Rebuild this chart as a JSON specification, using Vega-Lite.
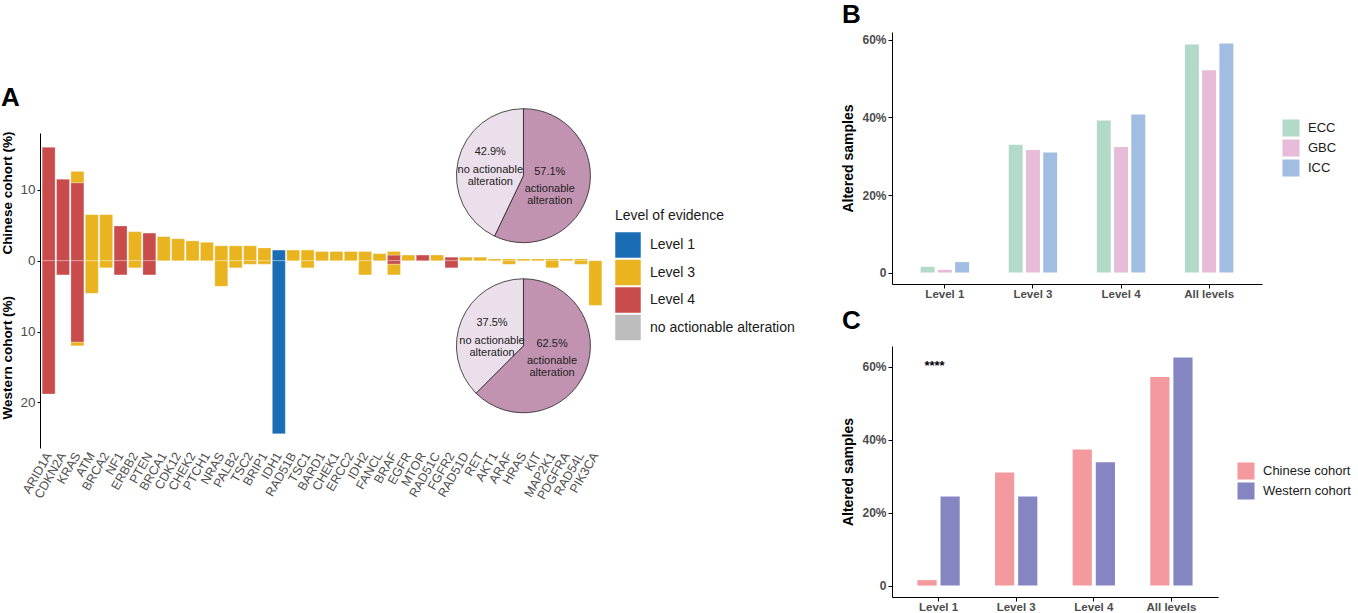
{
  "$schema": "https://vega.github.io/schema/vega-lite/v6.json",
  "padding": {"left": 0, "top": 2, "right": 0, "bottom": 0},
  "background": "white",
  "config": {
    "font": "Liberation Sans",
    "view": {"stroke": null},
    "axis": {"domainColor": "#000000", "tickColor": "#000000", "labelColor": "#4d4d4d", "titleColor": "#000000", "grid": false},
    "legend": {"labelColor": "#1a1a1a", "titleColor": "#1a1a1a"},
    "title": {"fontSize": 26, "fontWeight": "bold", "anchor": "start", "frame": "bounds", "color": "#000000"}
  },
  "spacing": 46,
  "resolve": {"scale": {"color": "independent", "x": "independent", "y": "independent", "xOffset": "independent", "theta": "independent"}, "legend": {"color": "independent"}},
  "hconcat": [
    {
      "spacing": 52,
      "vconcat": [
        {
          "width": 1,
          "height": 1,
          "data": {"values": []},
          "mark": {"type": "point"}
        },
        {
          "width": 564,
          "height": 315,
          "title": {"text": "A", "offset": -4},
          "resolve": {"scale": {"color": "independent"}},
          "layer": [
            {
              "data": {"values": [
                {"gene": "ARID1A", "cohort": "Chinese", "level": "Level 4", "value": 16.0},
                {"gene": "ARID1A", "cohort": "Western", "level": "Level 4", "value": -18.8},
                {"gene": "CDKN2A", "cohort": "Chinese", "level": "Level 4", "value": 11.5},
                {"gene": "CDKN2A", "cohort": "Western", "level": "Level 4", "value": -2.0},
                {"gene": "KRAS", "cohort": "Chinese", "level": "Level 4", "value": 11.0},
                {"gene": "KRAS", "cohort": "Chinese", "level": "Level 3", "value": 1.6},
                {"gene": "KRAS", "cohort": "Western", "level": "Level 4", "value": -11.5},
                {"gene": "KRAS", "cohort": "Western", "level": "Level 3", "value": -0.5},
                {"gene": "ATM", "cohort": "Chinese", "level": "Level 3", "value": 6.5},
                {"gene": "ATM", "cohort": "Western", "level": "Level 3", "value": -4.6},
                {"gene": "BRCA2", "cohort": "Chinese", "level": "Level 3", "value": 6.5},
                {"gene": "BRCA2", "cohort": "Western", "level": "Level 3", "value": -1.0},
                {"gene": "NF1", "cohort": "Chinese", "level": "Level 4", "value": 4.9},
                {"gene": "NF1", "cohort": "Western", "level": "Level 4", "value": -2.0},
                {"gene": "ERBB2", "cohort": "Chinese", "level": "Level 3", "value": 4.1},
                {"gene": "ERBB2", "cohort": "Western", "level": "Level 3", "value": -1.0},
                {"gene": "PTEN", "cohort": "Chinese", "level": "Level 4", "value": 3.9},
                {"gene": "PTEN", "cohort": "Western", "level": "Level 4", "value": -2.0},
                {"gene": "BRCA1", "cohort": "Chinese", "level": "Level 3", "value": 3.4},
                {"gene": "CDK12", "cohort": "Chinese", "level": "Level 3", "value": 3.1},
                {"gene": "CHEK2", "cohort": "Chinese", "level": "Level 3", "value": 2.8},
                {"gene": "PTCH1", "cohort": "Chinese", "level": "Level 3", "value": 2.6},
                {"gene": "NRAS", "cohort": "Chinese", "level": "Level 3", "value": 2.1},
                {"gene": "NRAS", "cohort": "Western", "level": "Level 3", "value": -3.6},
                {"gene": "PALB2", "cohort": "Chinese", "level": "Level 3", "value": 2.1},
                {"gene": "PALB2", "cohort": "Western", "level": "Level 3", "value": -1.0},
                {"gene": "TSC2", "cohort": "Chinese", "level": "Level 3", "value": 2.1},
                {"gene": "TSC2", "cohort": "Western", "level": "Level 3", "value": -0.5},
                {"gene": "BRIP1", "cohort": "Chinese", "level": "Level 3", "value": 1.8},
                {"gene": "BRIP1", "cohort": "Western", "level": "Level 3", "value": -0.5},
                {"gene": "IDH1", "cohort": "Chinese", "level": "Level 1", "value": 1.5},
                {"gene": "IDH1", "cohort": "Western", "level": "Level 1", "value": -24.4},
                {"gene": "RAD51B", "cohort": "Chinese", "level": "Level 3", "value": 1.5},
                {"gene": "TSC1", "cohort": "Chinese", "level": "Level 3", "value": 1.5},
                {"gene": "TSC1", "cohort": "Western", "level": "Level 3", "value": -1.0},
                {"gene": "BARD1", "cohort": "Chinese", "level": "Level 3", "value": 1.3},
                {"gene": "CHEK1", "cohort": "Chinese", "level": "Level 3", "value": 1.3},
                {"gene": "ERCC2", "cohort": "Chinese", "level": "Level 3", "value": 1.3},
                {"gene": "IDH2", "cohort": "Chinese", "level": "Level 3", "value": 1.3},
                {"gene": "IDH2", "cohort": "Western", "level": "Level 3", "value": -2.0},
                {"gene": "FANCL", "cohort": "Chinese", "level": "Level 3", "value": 1.0},
                {"gene": "BRAF", "cohort": "Chinese", "level": "Level 4", "value": 0.8},
                {"gene": "BRAF", "cohort": "Chinese", "level": "Level 3", "value": 0.5},
                {"gene": "BRAF", "cohort": "Western", "level": "Level 4", "value": -0.5},
                {"gene": "BRAF", "cohort": "Western", "level": "Level 3", "value": -1.5},
                {"gene": "EGFR", "cohort": "Chinese", "level": "Level 3", "value": 0.8},
                {"gene": "MTOR", "cohort": "Chinese", "level": "Level 4", "value": 0.8},
                {"gene": "RAD51C", "cohort": "Chinese", "level": "Level 3", "value": 0.8},
                {"gene": "FGFR2", "cohort": "Chinese", "level": "Level 4", "value": 0.5},
                {"gene": "FGFR2", "cohort": "Western", "level": "Level 4", "value": -1.0},
                {"gene": "RAD51D", "cohort": "Chinese", "level": "Level 3", "value": 0.5},
                {"gene": "RET", "cohort": "Chinese", "level": "Level 3", "value": 0.5},
                {"gene": "AKT1", "cohort": "Chinese", "level": "Level 3", "value": 0.25},
                {"gene": "ARAF", "cohort": "Chinese", "level": "Level 3", "value": 0.25},
                {"gene": "ARAF", "cohort": "Western", "level": "Level 3", "value": -0.5},
                {"gene": "HRAS", "cohort": "Chinese", "level": "Level 3", "value": 0.25},
                {"gene": "KIT", "cohort": "Chinese", "level": "Level 3", "value": 0.25},
                {"gene": "MAP2K1", "cohort": "Chinese", "level": "Level 3", "value": 0.25},
                {"gene": "MAP2K1", "cohort": "Western", "level": "Level 3", "value": -1.0},
                {"gene": "PDGFRA", "cohort": "Chinese", "level": "Level 3", "value": 0.25},
                {"gene": "RAD54L", "cohort": "Chinese", "level": "Level 3", "value": 0.25},
                {"gene": "RAD54L", "cohort": "Western", "level": "Level 3", "value": -0.5},
                {"gene": "PIK3CA", "cohort": "Western", "level": "Level 3", "value": -6.3}
              ]},
              "mark": {"type": "bar", "stroke": "#ffffff", "strokeWidth": 0.5, "strokeOpacity": 0.5},
              "encoding": {
                "x": {
                  "field": "gene", "type": "nominal",
                  "scale": {"domain": ["ARID1A","CDKN2A","KRAS","ATM","BRCA2","NF1","ERBB2","PTEN","BRCA1","CDK12","CHEK2","PTCH1","NRAS","PALB2","TSC2","BRIP1","IDH1","RAD51B","TSC1","BARD1","CHEK1","ERCC2","IDH2","FANCL","BRAF","EGFR","MTOR","RAD51C","FGFR2","RAD51D","RET","AKT1","ARAF","HRAS","KIT","MAP2K1","PDGFRA","RAD54L","PIK3CA"], "paddingInner": 0.1, "paddingOuter": 0.15},
                  "axis": {"title": null, "labelAngle": -60, "labelAlign": "right", "labelBaseline": "middle", "labelFontSize": 12.5, "domain": false, "ticks": false, "labelPadding": 5}
                },
                "y": {
                  "field": "value", "type": "quantitative", "stack": "zero",
                  "scale": {"domain": [-26.42, 18.02], "nice": false, "zero": false},
                  "axis": {
                    "values": [10, 0, -10, -20],
                    "labelExpr": "'' + abs(datum.value)",
                    "title": "Western cohort (%)\u00a0\u00a0\u00a0\u00a0\u00a0\u00a0\u00a0\u00a0\u00a0\u00a0\u00a0Chinese cohort (%)",
                    "titleY": 142,
                    "titleFontSize": 13.5, "titleFontWeight": "bold", "labelFontSize": 13.5, "tickSize": 3, "labelPadding": 2, "titlePadding": 5
                  }
                },
                "color": {
                  "field": "level", "type": "nominal",
                  "scale": {"domain": ["Level 1", "Level 3", "Level 4", "no actionable alteration"], "range": ["#1a6db5", "#e9b41f", "#c84c4b", "#bdbdbd"]},
                  "legend": {"orient": "none", "legendX": 575, "legendY": 76, "title": "Level of evidence", "titleFontSize": 14, "titleFontWeight": "normal", "labelFontSize": 14, "symbolType": "square", "symbolSize": 650, "symbolStrokeWidth": 0, "rowPadding": 1.5, "labelOffset": 9, "titlePadding": 9}
                },
                "order": {"field": "level", "sort": "descending"}
              }
            },
            {
              "mark": {"type": "rule", "color": "#000000", "strokeWidth": 1},
              "encoding": {"y": {"datum": 0, "type": "quantitative"}}
            },
            {
              "data": {"values": [
                {"status": "actionable alteration", "pct": 57.1, "pctLabel": "57.1%", "desc": "actionable\nalteration"},
                {"status": "no actionable alteration", "pct": 42.9, "pctLabel": "42.9%", "desc": "no actionable\nalteration"}
              ]},
              "layer": [
                {
                  "mark": {"type": "arc", "radius": 67, "stroke": "#222222", "strokeWidth": 0.8},
                  "encoding": {
                    "x": {"datum": "HRAS", "type": "nominal"}, "y": {"datum": 12, "type": "quantitative"},
                    "theta": {"field": "pct", "type": "quantitative", "stack": true},
                    "order": {"field": "status", "type": "ordinal"},
                    "color": {"field": "status", "type": "nominal", "scale": {"domain": ["actionable alteration", "no actionable alteration"], "range": ["#c293b1", "#ebdfeb"]}, "legend": null}
                  }
                },
                {
                  "mark": {"type": "text", "radius": 34, "dy": -16, "fontSize": 11, "color": "#222222"},
                  "encoding": {
                    "x": {"datum": "HRAS", "type": "nominal"}, "y": {"datum": 12, "type": "quantitative"},
                    "theta": {"field": "pct", "type": "quantitative", "stack": true},
                    "order": {"field": "status", "type": "ordinal"},
                    "text": {"condition": {"test": "datum.status == 'no actionable alteration'", "field": "pctLabel", "type": "nominal"}, "value": ""}
                  }
                },
                {
                  "mark": {"type": "text", "radius": 34, "dy": 2, "fontSize": 11, "color": "#222222", "lineBreak": "\n", "lineHeight": 12},
                  "encoding": {
                    "x": {"datum": "HRAS", "type": "nominal"}, "y": {"datum": 12, "type": "quantitative"},
                    "theta": {"field": "pct", "type": "quantitative", "stack": true},
                    "order": {"field": "status", "type": "ordinal"},
                    "text": {"condition": {"test": "datum.status == 'no actionable alteration'", "field": "desc", "type": "nominal"}, "value": ""}
                  }
                },
                {
                  "mark": {"type": "text", "radius": 27, "dy": -10, "fontSize": 11, "color": "#222222"},
                  "encoding": {
                    "x": {"datum": "HRAS", "type": "nominal"}, "y": {"datum": 12, "type": "quantitative"},
                    "theta": {"field": "pct", "type": "quantitative", "stack": true},
                    "order": {"field": "status", "type": "ordinal"},
                    "text": {"condition": {"test": "datum.status == 'actionable alteration'", "field": "pctLabel", "type": "nominal"}, "value": ""}
                  }
                },
                {
                  "mark": {"type": "text", "radius": 27, "dy": 7, "fontSize": 11, "color": "#222222", "lineBreak": "\n", "lineHeight": 12},
                  "encoding": {
                    "x": {"datum": "HRAS", "type": "nominal"}, "y": {"datum": 12, "type": "quantitative"},
                    "theta": {"field": "pct", "type": "quantitative", "stack": true},
                    "order": {"field": "status", "type": "ordinal"},
                    "text": {"condition": {"test": "datum.status == 'actionable alteration'", "field": "desc", "type": "nominal"}, "value": ""}
                  }
                }
              ]
            },
            {
              "data": {"values": [
                {"status": "actionable alteration", "pct": 62.5, "pctLabel": "62.5%", "desc": "actionable\nalteration"},
                {"status": "no actionable alteration", "pct": 37.5, "pctLabel": "37.5%", "desc": "no actionable\nalteration"}
              ]},
              "layer": [
                {
                  "mark": {"type": "arc", "radius": 67, "stroke": "#222222", "strokeWidth": 0.8},
                  "encoding": {
                    "x": {"datum": "HRAS", "type": "nominal"}, "y": {"datum": -12, "type": "quantitative"},
                    "theta": {"field": "pct", "type": "quantitative", "stack": true},
                    "order": {"field": "status", "type": "ordinal"},
                    "color": {"field": "status", "type": "nominal", "scale": {"domain": ["actionable alteration", "no actionable alteration"], "range": ["#c293b1", "#ebdfeb"]}, "legend": null}
                  }
                },
                {
                  "mark": {"type": "text", "radius": 34, "dy": -10, "fontSize": 11, "color": "#222222"},
                  "encoding": {
                    "x": {"datum": "HRAS", "type": "nominal"}, "y": {"datum": -12, "type": "quantitative"},
                    "theta": {"field": "pct", "type": "quantitative", "stack": true},
                    "order": {"field": "status", "type": "ordinal"},
                    "text": {"condition": {"test": "datum.status == 'no actionable alteration'", "field": "pctLabel", "type": "nominal"}, "value": ""}
                  }
                },
                {
                  "mark": {"type": "text", "radius": 34, "dy": 8, "fontSize": 11, "color": "#222222", "lineBreak": "\n", "lineHeight": 12},
                  "encoding": {
                    "x": {"datum": "HRAS", "type": "nominal"}, "y": {"datum": -12, "type": "quantitative"},
                    "theta": {"field": "pct", "type": "quantitative", "stack": true},
                    "order": {"field": "status", "type": "ordinal"},
                    "text": {"condition": {"test": "datum.status == 'no actionable alteration'", "field": "desc", "type": "nominal"}, "value": ""}
                  }
                },
                {
                  "mark": {"type": "text", "radius": 31, "dy": -14, "fontSize": 11, "color": "#222222"},
                  "encoding": {
                    "x": {"datum": "HRAS", "type": "nominal"}, "y": {"datum": -12, "type": "quantitative"},
                    "theta": {"field": "pct", "type": "quantitative", "stack": true},
                    "order": {"field": "status", "type": "ordinal"},
                    "text": {"condition": {"test": "datum.status == 'actionable alteration'", "field": "pctLabel", "type": "nominal"}, "value": ""}
                  }
                },
                {
                  "mark": {"type": "text", "radius": 31, "dy": 3, "fontSize": 11, "color": "#222222", "lineBreak": "\n", "lineHeight": 12},
                  "encoding": {
                    "x": {"datum": "HRAS", "type": "nominal"}, "y": {"datum": -12, "type": "quantitative"},
                    "theta": {"field": "pct", "type": "quantitative", "stack": true},
                    "order": {"field": "status", "type": "ordinal"},
                    "text": {"condition": {"test": "datum.status == 'actionable alteration'", "field": "desc", "type": "nominal"}, "value": ""}
                  }
                }
              ]
            }
          ]
        }
      ]
    },
    {
      "spacing": 8,
      "resolve": {"scale": {"color": "independent", "x": "independent", "y": "independent", "xOffset": "independent"}, "legend": {"color": "independent"}},
      "vconcat": [
        {
          "width": 370,
          "height": 252,
          "title": {"text": "B", "offset": 4},
          "data": {"values": [
            {"level": "Level 1", "group": "ECC", "value": 1.5},
            {"level": "Level 1", "group": "GBC", "value": 0.7},
            {"level": "Level 1", "group": "ICC", "value": 2.7},
            {"level": "Level 3", "group": "ECC", "value": 33.0},
            {"level": "Level 3", "group": "GBC", "value": 31.6},
            {"level": "Level 3", "group": "ICC", "value": 31.0},
            {"level": "Level 4", "group": "ECC", "value": 39.2},
            {"level": "Level 4", "group": "GBC", "value": 32.4},
            {"level": "Level 4", "group": "ICC", "value": 40.8},
            {"level": "All levels", "group": "ECC", "value": 58.8},
            {"level": "All levels", "group": "GBC", "value": 52.2},
            {"level": "All levels", "group": "ICC", "value": 59.1}
          ]},
          "mark": {"type": "bar"},
          "encoding": {
            "x": {
              "field": "level", "type": "nominal", "sort": ["Level 1", "Level 3", "Level 4", "All levels"],
              "scale": {"paddingInner": 0.45, "paddingOuter": 0.325},
              "axis": {"title": null, "labelAngle": 0, "labelFontSize": 11.5, "labelFontWeight": "bold", "tickSize": 4, "labelPadding": 0}
            },
            "xOffset": {"field": "group", "type": "nominal", "scale": {"paddingInner": 0.19, "paddingOuter": 0}},
            "y": {
              "field": "value", "type": "quantitative", "stack": null,
              "scale": {"domain": [-2.955, 62.055], "nice": false, "zero": false},
              "axis": {"values": [0, 20, 40, 60], "labelExpr": "datum.value == 0 ? '0' : datum.value + '%'", "title": "Altered samples", "titleFontSize": 14, "titleFontWeight": "bold", "labelFontSize": 12, "labelFontWeight": "bold", "tickSize": 4, "labelPadding": 2, "titlePadding": 6}
            },
            "color": {
              "field": "group", "type": "nominal",
              "scale": {"domain": ["ECC", "GBC", "ICC"], "range": ["#b3d9c9", "#e6bcd8", "#a2bde2"]},
              "legend": {"orient": "none", "legendX": 390, "legendY": 87, "title": null, "labelFontSize": 13, "symbolType": "square", "symbolSize": 290, "symbolStrokeWidth": 0, "rowPadding": 2, "labelOffset": 8}
            }
          }
        },
        {
          "width": 326,
          "height": 251,
          "title": {"text": "C", "offset": 12},
          "layer": [
            {
              "data": {"values": [
                {"level": "Level 1", "cohort": "Chinese cohort", "value": 1.5},
                {"level": "Level 1", "cohort": "Western cohort", "value": 24.4},
                {"level": "Level 3", "cohort": "Chinese cohort", "value": 31.0},
                {"level": "Level 3", "cohort": "Western cohort", "value": 24.4},
                {"level": "Level 4", "cohort": "Chinese cohort", "value": 37.3},
                {"level": "Level 4", "cohort": "Western cohort", "value": 33.8},
                {"level": "All levels", "cohort": "Chinese cohort", "value": 57.1},
                {"level": "All levels", "cohort": "Western cohort", "value": 62.5}
              ]},
              "mark": {"type": "bar"},
              "encoding": {
                "x": {
                  "field": "level", "type": "nominal", "sort": ["Level 1", "Level 3", "Level 4", "All levels"],
                  "scale": {"paddingInner": 0.455, "paddingOuter": 0.3275},
                  "axis": {"title": null, "labelAngle": 0, "labelFontSize": 11.5, "labelFontWeight": "bold", "tickSize": 4, "labelPadding": 0}
                },
                "xOffset": {"field": "cohort", "type": "nominal", "scale": {"paddingInner": 0.17, "paddingOuter": 0}},
                "y": {
                  "field": "value", "type": "quantitative", "stack": null,
                  "scale": {"domain": [-3.125, 65.625], "nice": false, "zero": false},
                  "axis": {"values": [0, 20, 40, 60], "labelExpr": "datum.value == 0 ? '0' : datum.value + '%'", "title": "Altered samples", "titleFontSize": 14, "titleFontWeight": "bold", "labelFontSize": 12, "labelFontWeight": "bold", "tickSize": 4, "labelPadding": 2, "titlePadding": 6}
                },
                "color": {
                  "field": "cohort", "type": "nominal",
                  "scale": {"domain": ["Chinese cohort", "Western cohort"], "range": ["#f49a9f", "#8585c1"]},
                  "legend": {"orient": "none", "legendX": 345, "legendY": 116, "title": null, "labelFontSize": 13, "symbolType": "square", "symbolSize": 290, "symbolStrokeWidth": 0, "rowPadding": 2, "labelOffset": 8}
                }
              }
            },
            {
              "data": {"values": [{"label": "****"}]},
              "mark": {"type": "text", "fontSize": 13, "fontWeight": "bold", "color": "#000000", "baseline": "middle", "dx": -4},
              "encoding": {
                "x": {"datum": "Level 1", "type": "nominal"},
                "y": {"datum": 60.2, "type": "quantitative"},
                "text": {"field": "label", "type": "nominal"}
              }
            }
          ]
        }
      ]
    }
  ]
}
